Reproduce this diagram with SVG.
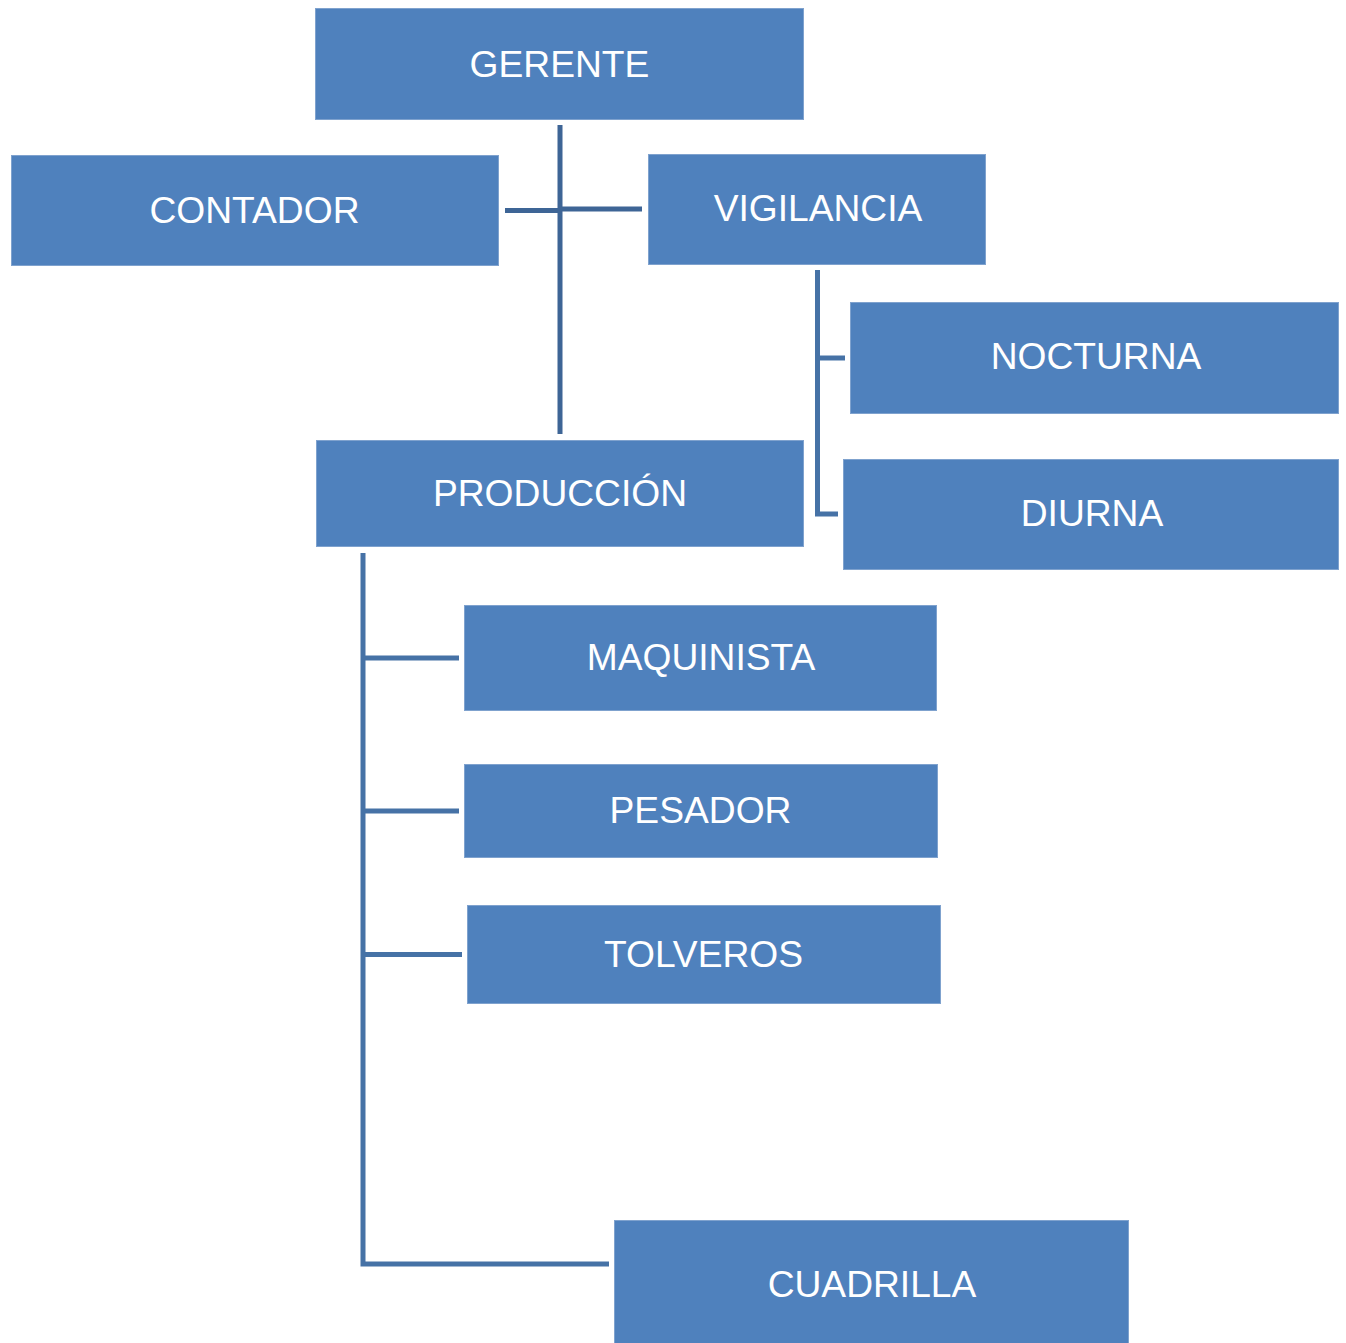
<svg xmlns="http://www.w3.org/2000/svg" width="1346" height="1343" viewBox="0 0 1346 1343">
<style>
.box{fill:#4F81BD;stroke:#7FA2CE;stroke-width:1}
.lbl{fill:#FFFFFF;font-family:"Liberation Sans",Arial,sans-serif;font-size:37.2px;text-anchor:middle}
.ln{stroke:#4672A6;stroke-width:5;fill:none}
.ln2{stroke:#3E6596;stroke-width:5;fill:none}
</style>
<rect width="1346" height="1343" fill="#FFFFFF"/>
<g id="connectors">
<line class="ln2" x1="560" y1="125" x2="560" y2="434"/>
<line class="ln2" x1="505" y1="210.5" x2="560" y2="210.5"/>
<line class="ln2" x1="560" y1="209" x2="642" y2="209"/>
<polyline class="ln" points="817.5,270 817.5,514 838,514"/>
<line class="ln" x1="817.5" y1="358" x2="845" y2="358"/>
<polyline class="ln" points="363,553 363,1264 609,1264"/>
<line class="ln" x1="363" y1="658" x2="459" y2="658"/>
<line class="ln" x1="363" y1="811" x2="459" y2="811"/>
<line class="ln" x1="363" y1="954.5" x2="462" y2="954.5"/>
</g>
<g id="gerente"><rect class="box" x="315.5" y="8.5" width="488" height="111"/><text class="lbl" x="559.5" y="76.5">GERENTE</text></g>
<g id="contador"><rect class="box" x="11.5" y="155.5" width="487" height="110"/><text class="lbl" x="254.5" y="222.5">CONTADOR</text></g>
<g id="vigilancia"><rect class="box" x="648.5" y="154.5" width="337" height="110"/><text class="lbl" x="818" y="221">VIGILANCIA</text></g>
<g id="nocturna"><rect class="box" x="850.5" y="302.5" width="488" height="111"/><text class="lbl" x="1096" y="369">NOCTURNA</text></g>
<g id="diurna"><rect class="box" x="843.5" y="459.5" width="495" height="110"/><text class="lbl" x="1092" y="526">DIURNA</text></g>
<g id="produccion"><rect class="box" x="316.5" y="440.5" width="487" height="106"/><text class="lbl" x="560" y="505.5">PRODUCCIÓN</text></g>
<g id="maquinista"><rect class="box" x="464.5" y="605.5" width="472" height="105"/><text class="lbl" x="701" y="670">MAQUINISTA</text></g>
<g id="pesador"><rect class="box" x="464.5" y="764.5" width="473" height="93"/><text class="lbl" x="700.5" y="823">PESADOR</text></g>
<g id="tolveros"><rect class="box" x="467.5" y="905.5" width="473" height="98"/><text class="lbl" x="703.5" y="967">TOLVEROS</text></g>
<g id="cuadrilla"><rect class="box" x="614.5" y="1220.5" width="514" height="123"/><text class="lbl" x="872" y="1297">CUADRILLA</text></g>
</svg>
